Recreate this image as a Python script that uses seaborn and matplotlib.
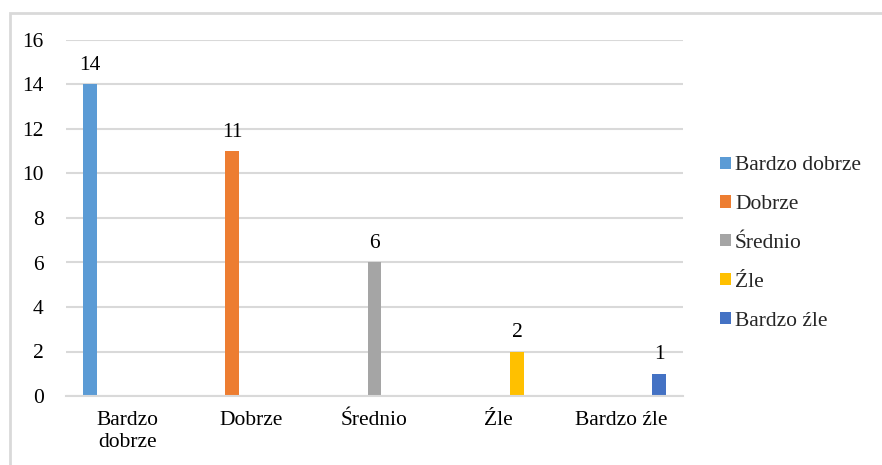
import pandas as pd
import matplotlib.pyplot as plt
import seaborn as sns
from matplotlib.patches import Rectangle

categories = ['Bardzo\ndobrze', 'Dobrze', 'Średnio', 'Źle', 'Bardzo źle']
series = ['Bardzo dobrze', 'Dobrze', 'Średnio', 'Źle', 'Bardzo źle']
values = [14, 11, 6, 2, 1]
colors = ['#5B9BD5', '#ED7D31', '#A5A5A5', '#FFC000', '#4472C4']
y_ticks = [0, 2, 4, 6, 8, 10, 12, 14, 16]

df = pd.DataFrame({'kategoria': categories, 'seria': series, 'liczba': values})

sns.set_theme(style="white")
plt.rcParams['font.family'] = ['Liberation Serif', 'DejaVu Serif']

fig = plt.figure(figsize=(8.82, 4.65), dpi=100)
ax = fig.add_axes([66 / 882, 1 - 396 / 465, (683 - 66) / 882, (396 - 40) / 465])

sns.barplot(
    data=df, x='kategoria', y='liczba', hue='seria',
    order=categories, hue_order=series, palette=colors,
    dodge=True, width=0.77, gap=0.27, saturation=1, linewidth=0, ax=ax,
)

for cont in ax.containers:
    ax.bar_label(cont, padding=7, fontsize=15.5, color='#000000')

ax.set_ylim(0, 16)
ax.set_xlim(-0.5, 4.5)
ax.set_yticks(y_ticks)
ax.yaxis.grid(True, color='#d9d9d9', linewidth=1.5)
ax.set_axisbelow(True)
ax.set_xlabel('')
ax.set_ylabel('')
for side in ['top', 'right', 'left']:
    ax.spines[side].set_visible(False)
ax.spines['bottom'].set_color('#d9d9d9')
ax.spines['bottom'].set_linewidth(1.5)
ax.tick_params(axis='y', length=0, pad=16, labelsize=15.5, labelcolor='#000000')
ax.tick_params(axis='x', length=0, pad=11, labelsize=15.5, labelcolor='#000000')

handles, labels = ax.get_legend_handles_labels()
ax.legend(
    handles, labels, loc='center left',
    bbox_to_anchor=(720 / 882, 1 - 243.5 / 465), bbox_transform=fig.transFigure,
    frameon=False, fontsize=15.5, borderpad=0, borderaxespad=0,
    handlelength=0.5, handleheight=0.5, handletextpad=0.2, labelspacing=0.92,
)

# outer chart border (only top and left visible in the crop)
fig.add_artist(Rectangle(
    (10 / 882, -0.1), 1.5, 1 - 13 / 465 + 0.1,
    transform=fig.transFigure, fill=False, edgecolor='#d9d9d9', linewidth=2,
))

fig.savefig('out.png', dpi=100)
